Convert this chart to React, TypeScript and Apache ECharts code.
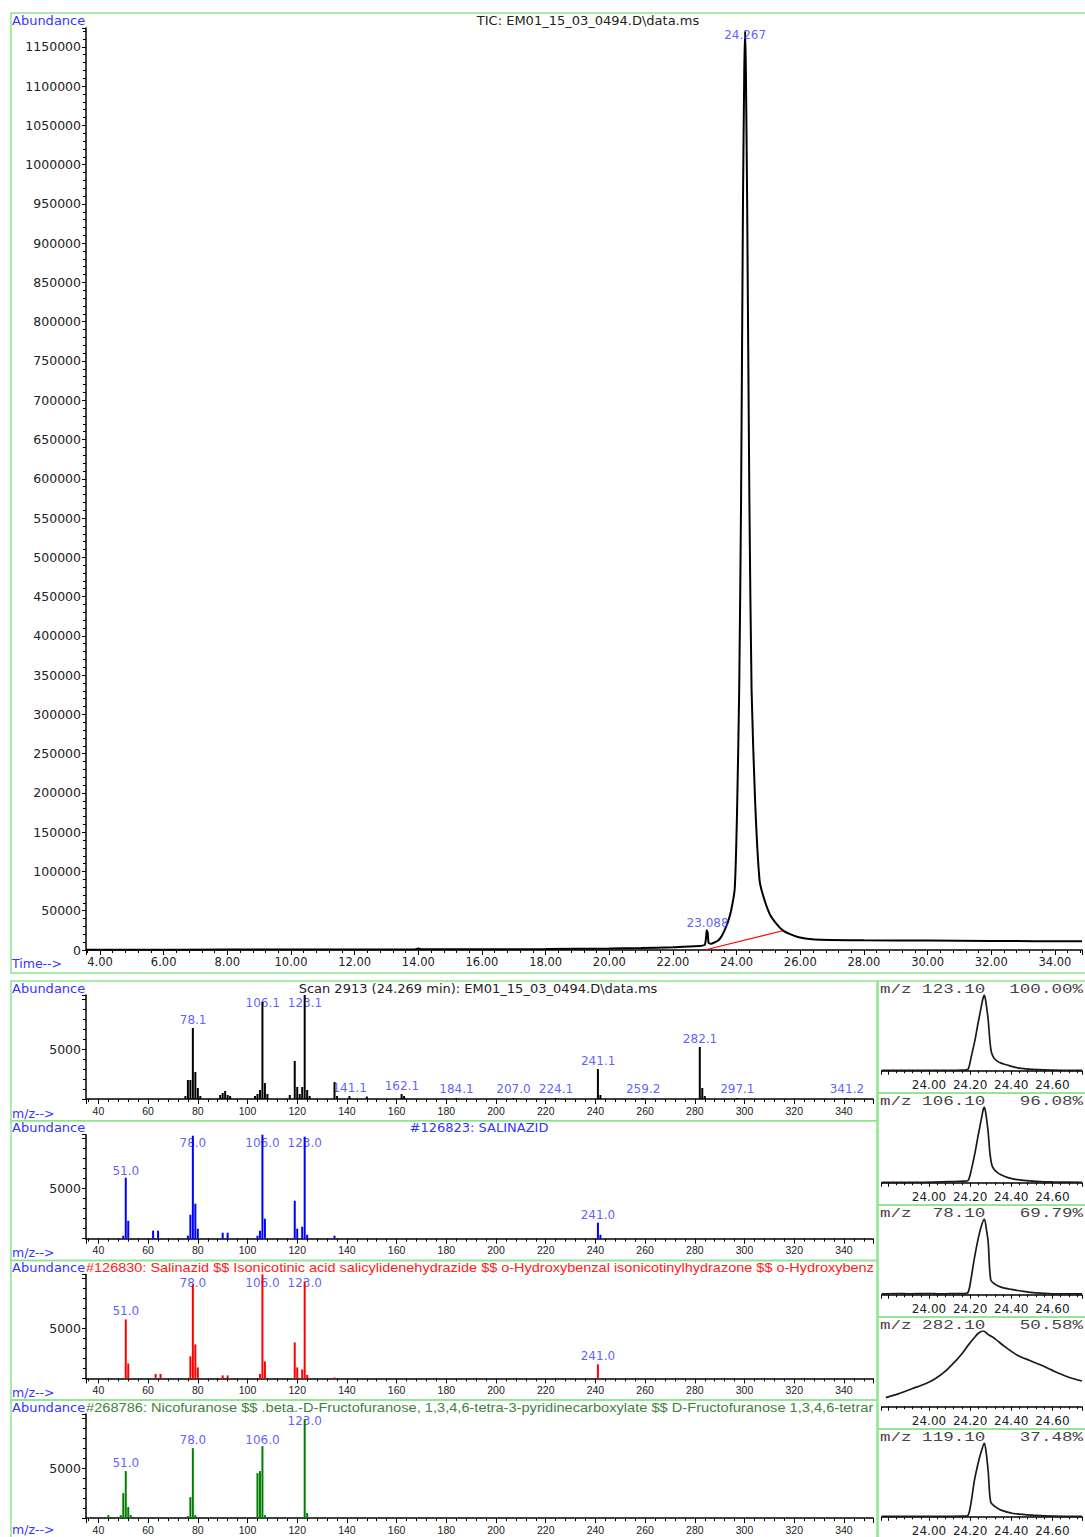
import React, { useEffect, useRef } from 'react';
import * as echarts from 'echarts';

const FONT = 'DejaVu Sans';
const BLUE = '#3535ff';
const BORDER = '#8be68b';

// ---------- TIC ----------
const ticTitle = 'TIC: EM01_15_03_0494.D\\data.ms';
const ticPoints: [number, number][] = [
  [3.56, 300], [5, 400], [8, 500], [10, 500], [12, 700], [13.9, 800], [14.0, 2000], [14.1, 800],
  [16, 900], [18, 1200], [20, 1800], [21, 2500], [22, 3500], [22.5, 4500], [22.9, 5500],
  [23.0, 6500], [23.04, 16000], [23.06, 25000], [23.09, 22000], [23.12, 9000], [23.2, 8000],
  [23.3, 9500], [23.42, 12000], [23.52, 17000], [23.62, 25000], [23.73, 36000], [23.83, 51000],
  [23.94, 78000], [24.01, 170000], [24.08, 330000], [24.14, 575000], [24.2, 955000],
  [24.24, 1120000], [24.267, 1170000], [24.29, 1120000], [24.33, 955000], [24.4, 575000],
  [24.47, 330000], [24.58, 190000], [24.72, 89000], [24.88, 63000], [25.09, 42000],
  [25.45, 25000], [25.92, 16500], [26.45, 13500], [28, 12500], [30, 12000], [32, 11500],
  [34.85, 11000],
];
const ticBaseline: [number, number][] = [[23.0, 0], [25.45, 24500]];
const ticLabels: [number, number, string][] = [
  [24.267, 1165000, '24.267'],
  [23.088, 35000, '23.088'],
];

// ---------- Spectra ----------
const spectrumTitles = [
  'Scan 2913 (24.269 min): EM01_15_03_0494.D\\data.ms',
  '#126823: SALINAZID',
  '#126830: Salinazid $$ Isonicotinic acid salicylidenehydrazide $$ o-Hydroxybenzal isonicotinylhydrazone $$ o-Hydroxybenz',
  '#268786: Nicofuranose $$ .beta.-D-Fructofuranose, 1,3,4,6-tetra-3-pyridinecarboxylate $$ D-Fructofuranose 1,3,4,6-tetrar',
];
const spectrumColors = ['#000000', '#0000ff', '#ff0000', '#008000'];

const scanPeaks: [number, number][] = [
  [75, 300], [76, 1900], [77, 1900], [78, 7100], [79, 2700], [80, 1100], [81, 300],
  [89, 400], [90, 600], [91, 800], [92, 400], [93, 300],
  [103, 300], [104, 500], [105, 900], [106, 9700], [107, 1600], [108, 500],
  [117, 400], [119, 3800], [120, 1200], [121, 500], [122, 1200], [123, 10400], [124, 900], [125, 300],
  [135, 1700], [136, 300], [141, 300], [148, 250], [162, 500], [163, 300], [184, 100], [207, 100],
  [224, 100], [241, 3000], [242, 400], [259, 100], [282, 5200], [283, 1100], [284, 300], [297, 100], [341, 100],
];
const scanLabels: [number, number, string][] = [
  [78.1, 7900, '78.1'], [106.1, 9600, '106.1'], [123.1, 9600, '123.1'], [141.1, 1070, '141.1'],
  [162.1, 1320, '162.1'], [184.1, 970, '184.1'], [207.0, 970, '207.0'], [224.1, 970, '224.1'],
  [241.1, 3830, '241.1'], [259.2, 970, '259.2'], [282.1, 5970, '282.1'], [297.1, 970, '297.1'],
  [341.2, 970, '341.2'],
];

const salinazidPeaks: [number, number][] = [
  [50, 300], [51, 6100], [52, 1800], [62, 800], [64, 800], [76, 300], [77, 2400], [78, 10300],
  [79, 3500], [80, 1000], [90, 600], [92, 600], [104, 300], [105, 800], [106, 10400], [107, 2000],
  [119, 3800], [120, 1000], [122, 1200], [123, 10200], [124, 400], [135, 300], [241, 1600], [242, 400],
];
const salinazidLabels: [number, number, string][] = [
  [51, 6800, '51.0'], [78, 9600, '78.0'], [106, 9600, '106.0'], [123, 9600, '123.0'], [241, 2400, '241.0'],
];

const hit2Peaks: [number, number][] = [
  [51, 5900], [52, 1500], [63, 450], [65, 450], [77, 2200], [78, 9400], [79, 3400], [80, 1100],
  [90, 300], [92, 300], [105, 450], [106, 10400], [107, 1700], [119, 3600], [120, 1100], [122, 900],
  [123, 9700], [124, 350], [135, 100], [241, 1400],
];
const hit2Labels: [number, number, string][] = [
  [51, 6700, '51.0'], [78, 9500, '78.0'], [106, 9500, '106.0'], [123, 9500, '123.0'], [241, 2200, '241.0'],
];

const hit3Peaks: [number, number][] = [
  [44, 300], [49, 300], [50, 2500], [51, 4700], [52, 1100], [53, 300], [69, 100], [76, 200],
  [77, 2100], [78, 7000], [79, 300], [104, 4500], [105, 4700], [106, 7200], [107, 300],
  [123, 9900], [124, 500],
];
const hit3Labels: [number, number, string][] = [
  [51, 5500, '51.0'], [78, 7800, '78.0'], [106, 7800, '106.0'], [123, 9700, '123.0'],
];

// ---------- Extracted ion chromatograms ----------
const ionMz = ['123.10', '106.10', '78.10', '282.10', '119.10'];
const ionPct = ['100.00%', '96.08%', '69.79%', '50.58%', '37.48%'];
const ion123: [number, number][] = [
  [23.77, 0.5], [23.9, 0.5], [24.0, 0.6], [24.1, 0.6], [24.17, 0.8], [24.19, 2], [24.205, 18],
  [24.224, 41], [24.238, 62], [24.248, 76], [24.258, 90], [24.264, 97], [24.269, 100], [24.276, 92],
  [24.282, 80], [24.288, 67], [24.296, 40], [24.303, 25], [24.315, 17], [24.33, 13], [24.35, 10],
  [24.38, 7.5], [24.41, 5], [24.45, 3], [24.5, 1.8], [24.56, 1], [24.65, 0.6], [24.744, 0.5],
];
const ion106: [number, number][] = [
  [23.77, 0.5], [23.95, 0.6], [24.1, 1.5], [24.17, 2], [24.19, 3], [24.205, 16], [24.224, 40],
  [24.238, 61], [24.248, 75], [24.258, 89], [24.264, 97], [24.269, 100], [24.276, 92], [24.282, 80],
  [24.288, 66], [24.296, 40], [24.305, 24], [24.315, 18], [24.33, 14], [24.35, 10.5], [24.38, 7],
  [24.42, 4.5], [24.46, 3], [24.52, 1.8], [24.6, 1], [24.744, 0.6],
];
const ion78: [number, number][] = [
  [23.77, 1], [23.85, 1.6], [23.9, 1.2], [24.0, 1.6], [24.05, 1.1], [24.1, 1.5], [24.17, 1.5],
  [24.19, 3], [24.205, 22], [24.22, 47], [24.24, 75], [24.255, 91], [24.269, 100], [24.28, 85],
  [24.288, 69], [24.3, 20], [24.32, 14], [24.35, 10], [24.4, 7], [24.46, 4.4], [24.52, 2.5],
  [24.6, 1.3], [24.744, 1],
];
const ion282: [number, number][] = [
  [23.79, 12], [23.85, 17], [23.92, 24], [23.98, 30], [24.03, 37], [24.08, 47], [24.128, 60],
  [24.16, 70], [24.19, 81], [24.22, 91], [24.24, 97], [24.264, 100], [24.29, 95], [24.32, 90],
  [24.37, 79], [24.43, 68], [24.49, 61], [24.544, 55], [24.6, 48], [24.67, 40], [24.744, 34],
];
const ion119: [number, number][] = [
  [23.77, 0.5], [24.0, 0.5], [24.17, 0.8], [24.19, 2], [24.205, 20], [24.22, 48], [24.24, 74],
  [24.255, 89], [24.269, 100], [24.279, 85], [24.288, 61], [24.3, 20], [24.32, 14], [24.35, 9],
  [24.41, 4.5], [24.52, 2], [24.6, 1], [24.744, 0.5],
];
const ionTraces = [ion123, ion106, ion78, ion282, ion119];

// ---------- layout ----------
const SPEC_TOP = 995;
const SPEC_STEP = 139.7;
const MINI_TOP = 995;
const MINI_STEP = 112;

const isMult = (v: number, step: number) => Math.abs(v / step - Math.round(v / step)) < 1e-6;

function buildOption() {
  const grid: any[] = [];
  const xAxis: any[] = [];
  const yAxis: any[] = [];
  const series: any[] = [];
  const graphic: any[] = [];

  const axisLine = { lineStyle: { color: '#000', width: 1.5 } };
  const axisTick = (len: number) => ({ length: len, lineStyle: { color: '#000', width: 1 } });
  const minorTick = (len: number) => ({ show: true, splitNumber: 5, length: len, lineStyle: { color: '#000', width: 1 } });
  const lbl = (size: number, fam: string, margin: number, formatter: any) => ({
    color: '#222', fontSize: size, fontFamily: fam, margin, formatter,
  });

  // TIC grid
  grid.push({ left: 86, top: 28, width: 999, height: 922 });
  xAxis.push({
    type: 'value', gridIndex: 0, min: 3.56, max: 34.85, minInterval: 2, maxInterval: 2,
    axisLine, axisTick: axisTick(5), minorTick: minorTick(3), splitLine: { show: false },
    axisLabel: lbl(11.5, FONT, 6, (v: number) => (isMult(v, 2) ? v.toFixed(2) : '')),
  });
  yAxis.push({
    type: 'value', gridIndex: 0, min: 0, max: 1174000, interval: 50000,
    axisLine: { show: true, ...axisLine }, axisTick: axisTick(4), minorTick: minorTick(3), splitLine: { show: false },
    axisLabel: lbl(12.5, FONT, 5, (v: number) => (isMult(v, 50000) ? String(Math.round(v)) : '')),
  });
  series.push({
    type: 'line', xAxisIndex: 0, yAxisIndex: 0, data: ticPoints, showSymbol: false, smooth: 0.2,
    lineStyle: { color: '#000', width: 2 }, z: 3, silent: true,
  });
  series.push({
    type: 'line', xAxisIndex: 0, yAxisIndex: 0, data: ticBaseline, showSymbol: false,
    lineStyle: { color: '#ff0000', width: 1.2 }, z: 4, silent: true,
  });
  series.push({
    type: 'scatter', xAxisIndex: 0, yAxisIndex: 0, symbolSize: 1, itemStyle: { color: 'rgba(0,0,0,0)' },
    data: ticLabels.map((d) => ({ value: [d[0], d[1]], name: d[2] })),
    label: { show: true, position: 'inside', formatter: '{b}', color: BLUE, fontSize: 12, fontFamily: FONT },
    z: 5, silent: true,
  });

  // Spectra
  const specPeaks = [scanPeaks, salinazidPeaks, hit2Peaks, hit3Peaks];
  const specLabels = [scanLabels, salinazidLabels, hit2Labels, hit3Labels];
  for (let i = 0; i < 4; i++) {
    const gi = grid.length;
    grid.push({ left: 86, top: SPEC_TOP + i * SPEC_STEP, width: 787, height: 104 });
    xAxis.push({
      type: 'value', gridIndex: gi, min: 35, max: 351.7, minInterval: 20, maxInterval: 20,
      axisLine, axisTick: axisTick(5), minorTick: minorTick(3), splitLine: { show: false },
      axisLabel: lbl(10.5, 'Liberation Sans', 6, (v: number) => (isMult(v, 20) ? String(Math.round(v)) : '')),
    });
    yAxis.push({
      type: 'value', gridIndex: gi, min: 0, max: 10400, interval: 5000,
      axisLine: { show: true, ...axisLine }, axisTick: axisTick(4), minorTick: minorTick(3), splitLine: { show: false },
      axisLabel: lbl(12.5, FONT, 5, (v: number) => (Math.round(v) === 5000 ? '5000' : '')),
    });
    series.push({
      type: 'scatter', xAxisIndex: gi, yAxisIndex: gi, symbolSize: 1, itemStyle: { color: 'rgba(0,0,0,0)' },
      data: specLabels[i].map((d) => ({ value: [d[0], d[1]], name: d[2] })),
      label: { show: true, position: 'inside', formatter: '{b}', color: BLUE, fontSize: 12, fontFamily: FONT },
      z: 2, silent: true,
    });
    series.push({
      type: 'bar', xAxisIndex: gi, yAxisIndex: gi, data: specPeaks[i], barWidth: 2,
      itemStyle: { color: spectrumColors[i] }, z: 3, silent: true,
    });
  }

  // Ion chromatograms
  for (let j = 0; j < 5; j++) {
    const gi = grid.length;
    grid.push({ left: 881.7, top: MINI_TOP + j * MINI_STEP, width: 203.3, height: 78 });
    xAxis.push({
      type: 'value', gridIndex: gi, min: 23.77, max: 24.744, minInterval: 0.2, maxInterval: 0.2,
      axisLine, axisTick: axisTick(4), minorTick: minorTick(2.5), splitLine: { show: false },
      axisLabel: lbl(12, FONT, 6, (v: number) => (isMult(v, 0.2) && v > 23.9 ? v.toFixed(2) : '')),
    });
    yAxis.push({
      type: 'value', gridIndex: gi, min: -3, max: 100, show: false, splitLine: { show: false },
    });
    series.push({
      type: 'line', xAxisIndex: gi, yAxisIndex: gi, data: ionTraces[j], showSymbol: false, smooth: 0.3,
      lineStyle: { color: '#1a1a1a', width: 1.7 }, z: 3, silent: true,
    });
  }

  // Borders
  graphic.push({ type: 'rect', shape: { x: 11, y: 13, width: 1090, height: 960 }, style: { fill: 'none', stroke: BORDER, lineWidth: 1.5 }, silent: true });
  for (let i = 0; i < 4; i++) {
    graphic.push({ type: 'rect', shape: { x: 11, y: 981 + i * SPEC_STEP, width: 866, height: SPEC_STEP }, style: { fill: 'none', stroke: BORDER, lineWidth: 1.5 }, silent: true });
  }
  for (let j = 0; j < 5; j++) {
    graphic.push({ type: 'rect', shape: { x: 878, y: 981 + j * MINI_STEP, width: 210, height: MINI_STEP }, style: { fill: 'none', stroke: BORDER, lineWidth: 1.5 }, silent: true });
  }

  const text = (t: string, x: number, y: number, color: string, size: number, align = 'left', fam = FONT, scaleX = 1) => ({
    type: 'text', x, y, silent: true, z: 10, scaleX, scaleY: 1, originX: 0, originY: 0,
    style: {
      text: t, fill: color, fontSize: size, fontFamily: fam,
      textAlign: align, align, textVerticalAlign: 'middle', verticalAlign: 'middle',
    },
  });

  // TIC texts
  graphic.push(text('Abundance', 12, 20, BLUE, 13));
  graphic.push(text(ticTitle, 588, 20, '#222', 13, 'center'));
  graphic.push(text('Time-->', 12, 963, BLUE, 12.5));

  // Spectrum texts
  for (let i = 0; i < 4; i++) {
    const yT = 988 + i * SPEC_STEP;
    graphic.push(text('Abundance', 12, yT, BLUE, 13));
    graphic.push(text('m/z-->', 12, Math.min(1113 + i * SPEC_STEP, 1529), BLUE, 12.5));
  }
  graphic.push(text(spectrumTitles[0], 478, 988, '#222', 13, 'center'));
  graphic.push(text(spectrumTitles[1], 479, 988 + SPEC_STEP, BLUE, 13, 'center'));
  graphic.push(text(spectrumTitles[2], 86, 988 + 2 * SPEC_STEP, '#ff2020', 13, 'left', 'Liberation Sans', 1.115));
  graphic.push(text(spectrumTitles[3], 86, 988 + 3 * SPEC_STEP, '#3f7f3f', 13, 'left', 'Liberation Sans', 1.125));

  // Ion texts
  for (let j = 0; j < 5; j++) {
    const yT = 990 + j * MINI_STEP;
    graphic.push(text('m/z ' + ionMz[j].padStart(6, ' '), 880, yT, '#444', 13, 'left', 'Liberation Mono', 1.35));
    graphic.push(text(ionPct[j], 1083, yT, '#444', 13, 'right', 'Liberation Mono', 1.35));
  }

  return {
    animation: false,
    backgroundColor: '#ffffff',
    grid, xAxis, yAxis, series, graphic,
  };
}

export default function App() {
  const ref = useRef<HTMLDivElement>(null);
  useEffect(() => {
    document.body.style.margin = '0';
    const chart = echarts.init(ref.current!, undefined, { renderer: 'svg' });
    chart.setOption(buildOption() as any);
    return () => chart.dispose();
  }, []);
  return <div ref={ref} style={{ width: 1085, height: 1537, overflow: 'hidden' }} />;
}
